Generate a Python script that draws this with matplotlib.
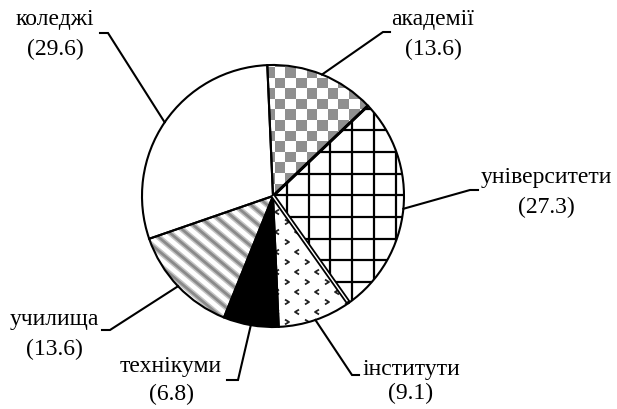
import numpy as np
import matplotlib
matplotlib.use('Agg')
import matplotlib.pyplot as plt
from matplotlib.patches import Wedge, Rectangle
from matplotlib.collections import PatchCollection, LineCollection
from matplotlib.path import Path

# ---------------- data ----------------
categories = ['академії', 'університети', 'інститути', 'технікуми', 'училища', 'коледжі']
values = [13.6, 27.3, 9.1, 6.8, 13.6, 29.6]
value_labels = ['(13.6)', '(27.3)', '(9.1)', '(6.8)', '(13.6)', '(29.6)']

# ---------------- layout (pixel coords, origin top-left) ----------------
W, H = 617, 409
CX, CY, R = 273, 196, 131
START = 92.5
# leader elbow point, tick end point, label centre x, baselines of the two lines
elbows = [(383, 32), (470, 190), (352, 375), (238, 380), (110, 330), (108, 33)]
ticks = [(390, 32), (478, 190), (359, 375), (227, 380), (102, 330), (100, 33)]
label_x = [433, 546, 411, 171, 54, 55]
label_base = [(25, 55), (183, 213), (375, 399), (372, 400), (325, 355), (25, 55)]

FONT = 'Liberation Serif'
FS = 17
LW = 1.5


def py(y):
    return H - y


fig = plt.figure(figsize=(W / 100, H / 100), dpi=100)
ax = fig.add_axes([0, 0, 1, 1])

wedges, _ = ax.pie(values, startangle=START, counterclock=False,
                   center=(CX, py(CY)), radius=R,
                   colors=['white'] * len(values),
                   wedgeprops=dict(edgecolor='none', linewidth=0, zorder=1))
ax.set_xlim(0, W)
ax.set_ylim(0, H)
ax.set_aspect('equal')
ax.axis('off')

x0, x1 = CX - R - 5, CX + R + 5
y0, y1 = py(CY) - R - 5, py(CY) + R + 5

# ---- академії : grey checkerboard ----
cell = 10.6
rects = []
for i, x in enumerate(np.arange(x0, x1, cell)):
    for j, y in enumerate(np.arange(y0, y1, cell)):
        if (i + j) % 2 == 0:
            rects.append(Rectangle((x, y), cell, cell))
pc = PatchCollection(rects, facecolor='#8f8f8f', edgecolor='none', zorder=2)
ax.add_collection(pc)
pc.set_clip_path(wedges[0])

# ---- університети : black grid ----
sp = 21.7
segs = []
for x in np.arange(287 - 20 * sp, x1, sp):
    segs.append([(x, y0), (x, y1)])
for y in np.arange(152 - 20 * sp, H, sp):
    segs.append([(x0, py(y)), (x1, py(y))])
lc = LineCollection(segs, colors='black', linewidths=1.6, zorder=2)
ax.add_collection(lc)
lc.set_clip_path(wedges[1])

# ---- інститути : small chevrons ----
chev_l = Path([(0.5, 0.6), (-0.5, 0.0), (0.5, -0.6)],
              [Path.MOVETO, Path.LINETO, Path.LINETO])
chev_r = Path([(-0.5, 0.6), (0.5, 0.0), (-0.5, -0.6)],
              [Path.MOVETO, Path.LINETO, Path.LINETO])
pts_l, pts_r = [], []
step = 10.0
for j, y in enumerate(np.arange(y0, y1, step)):
    for i, x in enumerate(np.arange(x0 + (j % 2) * step, x1, 2 * step)):
        (pts_l if j % 2 == 0 else pts_r).append((x, y))
pts_l = np.array(pts_l)
pts_r = np.array(pts_r)
s1 = ax.scatter(pts_l[:, 0], pts_l[:, 1], marker=chev_l, s=12, facecolor='none',
                edgecolor='#222222', linewidths=1.3, zorder=2)
s2 = ax.scatter(pts_r[:, 0], pts_r[:, 1], marker=chev_r, s=12, facecolor='none',
                edgecolor='#222222', linewidths=1.3, zorder=2)
s1.set_clip_path(wedges[2])
s2.set_clip_path(wedges[2])

# ---- технікуми : solid black ----
wedges[3].set_facecolor('black')

# ---- училища : grey diagonal stripes ----
ang = np.deg2rad(-40)
d = np.array([np.cos(ang), np.sin(ang)])
n = np.array([-np.sin(ang), np.cos(ang)])
segs = []
c = np.array([CX, py(CY)])
for k in np.arange(-30, 30):
    p = c + n * k * 10.5
    segs.append([tuple(p - d * 400), tuple(p + d * 400)])
lc2 = LineCollection(segs, colors='#c4c4c4', linewidths=4.2, zorder=2)
ax.add_collection(lc2)
lc2.set_clip_path(wedges[4])
lc3 = LineCollection(segs, colors='#8a8a8a', linewidths=2.0, zorder=2)
ax.add_collection(lc3)
lc3.set_clip_path(wedges[4])

# ---- outlines ----
for w in wedges:
    ax.add_patch(Wedge(w.center, w.r, w.theta1, w.theta2, facecolor='none',
                       edgecolor='black', linewidth=LW, zorder=4,
                       joinstyle='miter'))

# thicker boundary between академії / університети
t = np.deg2rad(wedges[0].theta1)
ax.plot([CX, CX + R * np.cos(t)], [py(CY), py(CY) + R * np.sin(t)],
        color='black', lw=2.2, zorder=5, solid_capstyle='butt')
# double boundary between університети / інститути
t = np.deg2rad(wedges[1].theta1)
ax.plot([CX, CX + R * np.cos(t)], [py(CY), py(CY) + R * np.sin(t)],
        color='black', lw=3.6, zorder=5, solid_capstyle='butt')
ax.plot([CX, CX + (R - 2) * np.cos(t)], [py(CY), py(CY) + (R - 2) * np.sin(t)],
        color='white', lw=1.0, zorder=6, solid_capstyle='butt')

# ---- leader lines and labels ----
for i, w in enumerate(wedges):
    mid = np.deg2rad((w.theta1 + w.theta2) / 2)
    sx, sy = CX + R * np.cos(mid), py(CY) + R * np.sin(mid)
    ex, ey = elbows[i]
    tx, ty = ticks[i]
    ax.plot([sx, ex, tx], [sy, py(ey), py(ty)], color='black', lw=LW,
            zorder=3, solid_joinstyle='miter')
    b1, b2 = label_base[i]
    ax.text(label_x[i], py(b1), categories[i], ha='center', va='baseline',
            fontsize=FS, family=FONT, color='black')
    ax.text(label_x[i], py(b2), value_labels[i], ha='center', va='baseline',
            fontsize=FS, family=FONT, color='black')

fig.savefig('out.png', dpi=100)
